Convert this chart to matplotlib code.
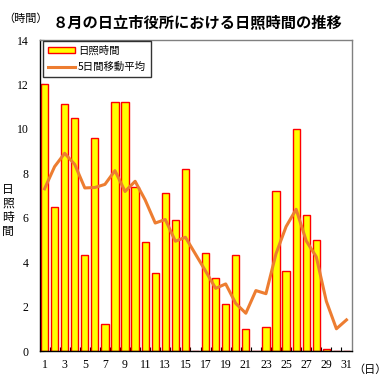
import matplotlib
matplotlib.use("Agg")
import matplotlib.pyplot as plt
from matplotlib.patches import Patch
from matplotlib.lines import Line2D

plt.rcParams['font.family'] = ['Noto Sans CJK JP', 'DejaVu Sans']

# 8月の日別データ
days = list(range(1, 32))
sunshine = [12.0, 6.5, 11.1, 10.5, 4.3, 9.6, 1.2, 11.2, 11.2, 7.4,
            4.9, 3.5, 7.1, 5.9, 8.2, 0.0, 4.4, 3.3, 2.1, 4.3,
            1.0, 0.0, 1.1, 7.2, 3.6, 10.0, 6.1, 5.0, 0.1, 0.0, 0.0]
moving_avg = [7.3, 8.3, 8.9, 8.4, 7.34, 7.36, 7.5, 8.12, 7.18, 7.64,
              6.8, 5.76, 5.92, 4.94, 5.12, 4.36, 3.6, 2.82, 3.02, 2.14,
              1.7, 2.72, 2.58, 4.38, 5.6, 6.38, 4.96, 4.24, 2.24, 1.0, 1.4]
xtick_days = list(range(1, 32, 2))
yticks = list(range(0, 15, 2))

W, H = 388, 389
fig = plt.figure(figsize=(W / 100, H / 100), dpi=100)
ax = fig.add_axes([39.5 / W, 1 - 351 / H, 312 / W, 311 / H])

ax.bar(days, sunshine, width=0.72, color='#ffff00', edgecolor='#ff0000',
       linewidth=1.0, zorder=2)
ax.plot(days, moving_avg, color='#ed7d31', linewidth=2.2, zorder=3)

ax.set_xlim(0.5, 31.5)
ax.set_ylim(0, 14)

serif = 'Liberation Serif'
ax.set_yticks(yticks)
ax.set_yticklabels([str(v) for v in yticks], family=serif, fontsize=8.5)
ax.set_xticks(xtick_days)
ax.set_xticklabels([str(d) for d in xtick_days], family=serif, fontsize=8.5)
ax.tick_params(axis='x', length=0, pad=6)
ax.set_xticks([d + 0.5 for d in range(1, 31)], minor=True)
ax.tick_params(axis='x', which='minor', direction='in', length=3, width=0.8)
ax.tick_params(axis='y', direction='in', length=3, width=0.8, pad=8)

for side in ['top', 'right']:
    ax.spines[side].set_color('#808080')
    ax.spines[side].set_linewidth(1.0)
for side in ['left', 'bottom']:
    ax.spines[side].set_color('black')
    ax.spines[side].set_linewidth(1.0)

handles = [Patch(facecolor='#ffff00', edgecolor='#ff0000', linewidth=1.0),
           Line2D([0], [0], color='#ed7d31', linewidth=2.2)]
leg = ax.legend(handles, ['日照時間', '5日間移動平均'], loc='upper left',
                bbox_to_anchor=(3.5 / 312, 1 - 1 / 311), fontsize=7.5,
                frameon=True, fancybox=False, borderaxespad=0,
                handlelength=2.6, handleheight=0.45, handletextpad=0.3,
                labelspacing=0.6, borderpad=0.45)
leg.get_frame().set_edgecolor('black')
leg.get_frame().set_linewidth(1.0)

fig.text(53 / W, 1 - 22 / H, '８月の日立市役所における日照時間の推移',
         fontsize=11, fontweight='bold', va='center', ha='left')
fig.text(3 / W, 1 - 19 / H, '（時間）', fontsize=8, va='center', ha='left')
fig.text(8 / W, 1 - 210 / H, '日\n照\n時\n間', fontsize=8.5, va='center',
         ha='center', linespacing=1.1)
fig.text(353 / W, 1 - 370 / H, '（日）', fontsize=8, va='center', ha='left')

fig.savefig('out.png', dpi=100)
